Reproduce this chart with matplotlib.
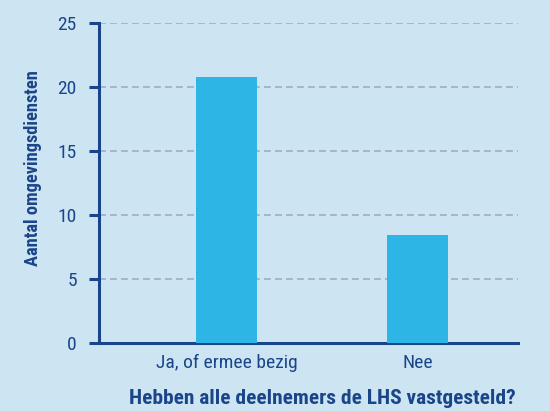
import matplotlib.pyplot as plt
from matplotlib import font_manager as fm

categories = ["Ja, of ermee bezig", "Nee"]
values = [20.8, 8.45]
yticks = [0, 5, 10, 15, 20, 25]

BG = "#cde5f3"
BAR = "#2db5e5"
NAVY = "#1b4589"
GRID = "#9ea6c8"

# narrow sans close to the original condensed face, needs a bold cut
prefs = ["Roboto Condensed", "Liberation Sans Narrow", "Archivo Narrow",
         "Open Sans Condensed", "Barlow Semi Condensed", "Asap Condensed"]
fonts = fm.fontManager.ttflist
family = "DejaVu Sans"
for p in prefs:
    ws = [f.weight for f in fonts if f.name == p]
    ws = [w if isinstance(w, int) else 400 for w in ws]
    if ws and max(ws) >= 700:
        family = p
        break
plt.rcParams["font.family"] = [family, "DejaVu Sans"]

fig = plt.figure(figsize=(5.5, 4.11), dpi=100, facecolor=BG)
ax = fig.add_axes([0.18, 0.1655, 0.7618, 0.7785], facecolor=BG)

x = list(range(len(categories)))
ax.bar(x, values, width=0.32, color=BAR, zorder=3)

ax.set_xlim(-0.667, 1.526)
ax.set_ylim(0, 25)
ax.set_yticks(yticks)
ax.set_xticks(x)
ax.set_xticklabels(categories)

ax.yaxis.grid(True, linestyle=(0, (4.5, 2.7)), color=GRID, linewidth=1.1, zorder=1)
for s in ["top", "right"]:
    ax.spines[s].set_visible(False)
for s in ["left", "bottom"]:
    ax.spines[s].set_color(NAVY)
    ax.spines[s].set_linewidth(2.2)
ax.tick_params(axis="y", colors=NAVY, length=7, width=2.2, pad=9, labelsize=14)
ax.tick_params(axis="x", colors=NAVY, length=0, pad=8, labelsize=14)

ax.set_xlabel("Hebben alle deelnemers de LHS vastgesteld?", color=NAVY,
              fontsize=15.4, fontweight=900, labelpad=12)
ax.set_ylabel("Aantal omgevingsdiensten", color=NAVY, fontsize=13.2,
              fontweight=900, labelpad=11)
ax.xaxis.label.set_x(0.533)
ax.yaxis.label.set_y(0.548)

fig.savefig("out.png", dpi=100, facecolor=BG)
